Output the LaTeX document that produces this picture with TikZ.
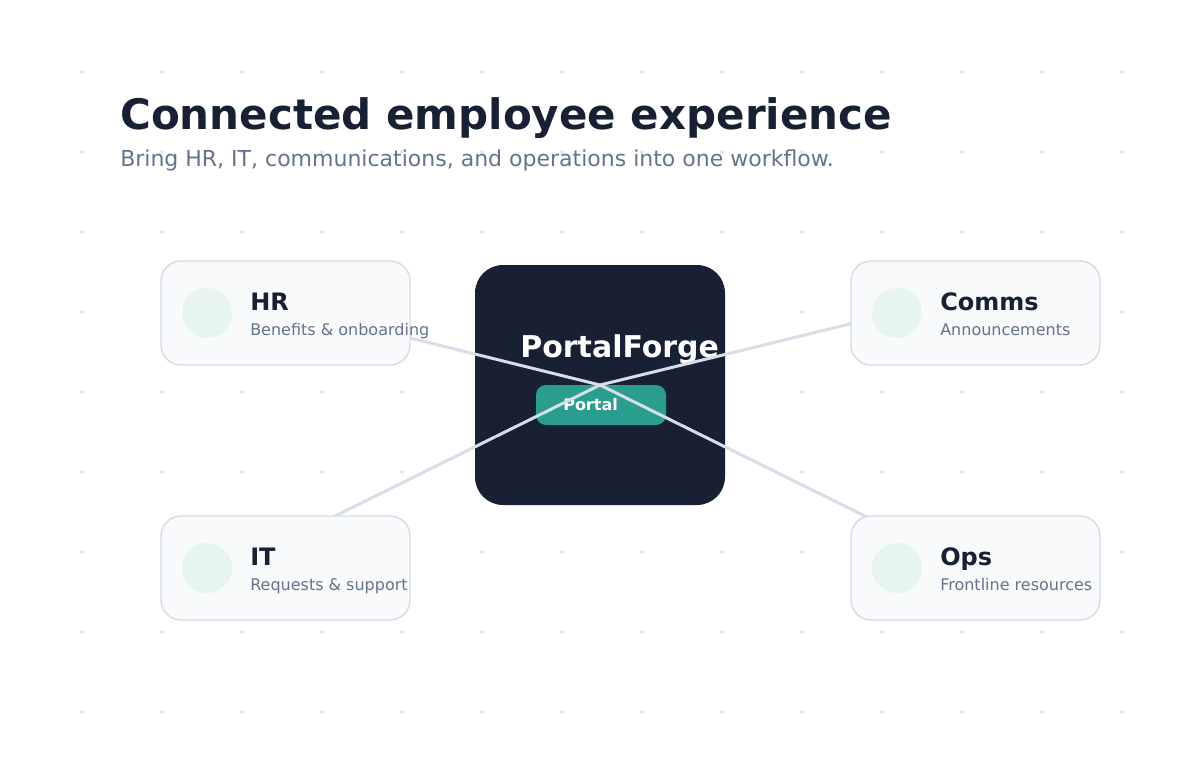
\documentclass[tikz,border=0pt]{standalone}
\usepackage{fontspec}
\setmainfont{DejaVu Sans}
\usepackage{tikz}
\usetikzlibrary{positioning}
\usepackage{xcolor}
\definecolor{inkcolor}{RGB}{24,32,51}
\definecolor{slatecolor}{RGB}{100,116,139}
\definecolor{cardfill}{RGB}{248,250,252}
\definecolor{cardline}{RGB}{213,220,229}
\definecolor{iconfill}{RGB}{230,244,242}
\definecolor{tealcolor}{RGB}{42,157,143}
\definecolor{dotcolor}{RGB}{226,232,240}
\definecolor{linkcolor}{RGB}{214,222,231}

\begin{document}
\begin{tikzpicture}[x=0.75pt,y=-0.75pt,
    card/.style={draw=cardline,line width=1.1pt,fill=cardfill,rounded corners=15pt,
      minimum width=186.75pt,minimum height=78pt,inner sep=0pt},
    icon/.style={circle,fill=iconfill,minimum size=37.5pt,inner sep=0pt},
    cardtitle/.style={anchor=base west,inner sep=0pt,text=inkcolor,font=\fontsize{18}{20}\selectfont\bfseries},
    cardsub/.style={anchor=base west,inner sep=0pt,text=slatecolor,font=\fontsize{12}{14}\selectfont},
    link/.style={draw=linkcolor,line width=2.25pt}]
        \fill[white](0,0) rectangle (1200,760);
        \useasboundingbox (0,0) rectangle (1200,760);
        % dot grid
        \foreach \i in {0,...,13}
          \foreach \j in {0,...,8}
            \fill[dotcolor] ({82+80*\i},{72+80*\j}) circle (1.5pt);
        \node[anchor=base west,inner sep=0pt,text=inkcolor,font=\fontsize{31.5}{36}\selectfont\bfseries] (title) at (120,129) {Connected employee experience};
        \node[anchor=base west,inner sep=0pt,text=slatecolor,font=\fontsize{16.5}{20}\selectfont] (subtitle) at (120,166) {Bring HR, IT, communications, and operations into one workflow.};
        % hub
        \node[fill=inkcolor,rounded corners=21pt,minimum width=187.5pt,minimum height=180pt,inner sep=0pt] (hub) at (600,385) {};
        \node[fill=tealcolor,rounded corners=7.5pt,minimum width=97.5pt,minimum height=30pt,inner sep=0pt] (pill) at (601,405) {};
        \node[anchor=base west,inner sep=0pt,text=white,font=\fontsize{22.5}{26}\selectfont\bfseries] (hub-name) at (520,357) {PortalForge};
        \node[anchor=base west,inner sep=0pt,text=white,font=\fontsize{12}{14}\selectfont\bfseries] (pill-text) at (563,410) {Portal};
        % connectors
        \coordinate (hr-end) at (400,335.5);
        \coordinate (comms-end) at (860,321.5);
        \coordinate (it-end) at (325,521);
        \coordinate (ops-end) at (875,521);
        \foreach \e in {hr,comms,it,ops}
          \draw[link] (hub.center) -- (\e-end);
        % cards
        \foreach \name/\cx/\cy/\head/\note in {hr/285.5/313/HR/{Benefits \& onboarding},
            it/285.5/568/IT/{Requests \& support},
            comms/975.5/313/Comms/Announcements,
            ops/975.5/568/Ops/{Frontline resources}} {
          \node[card] (\name) at (\cx,\cy) {};
          \node[icon] (\name-icon) at (\cx-78.5,\cy) {};
          \node[cardtitle] (\name-title) at (\cx-35.5,\cy-3) {\head};
          \node[cardsub] (\name-sub) at (\cx-35.5,\cy+22.5) {\note};
        }
      \end{tikzpicture}
\end{document}
